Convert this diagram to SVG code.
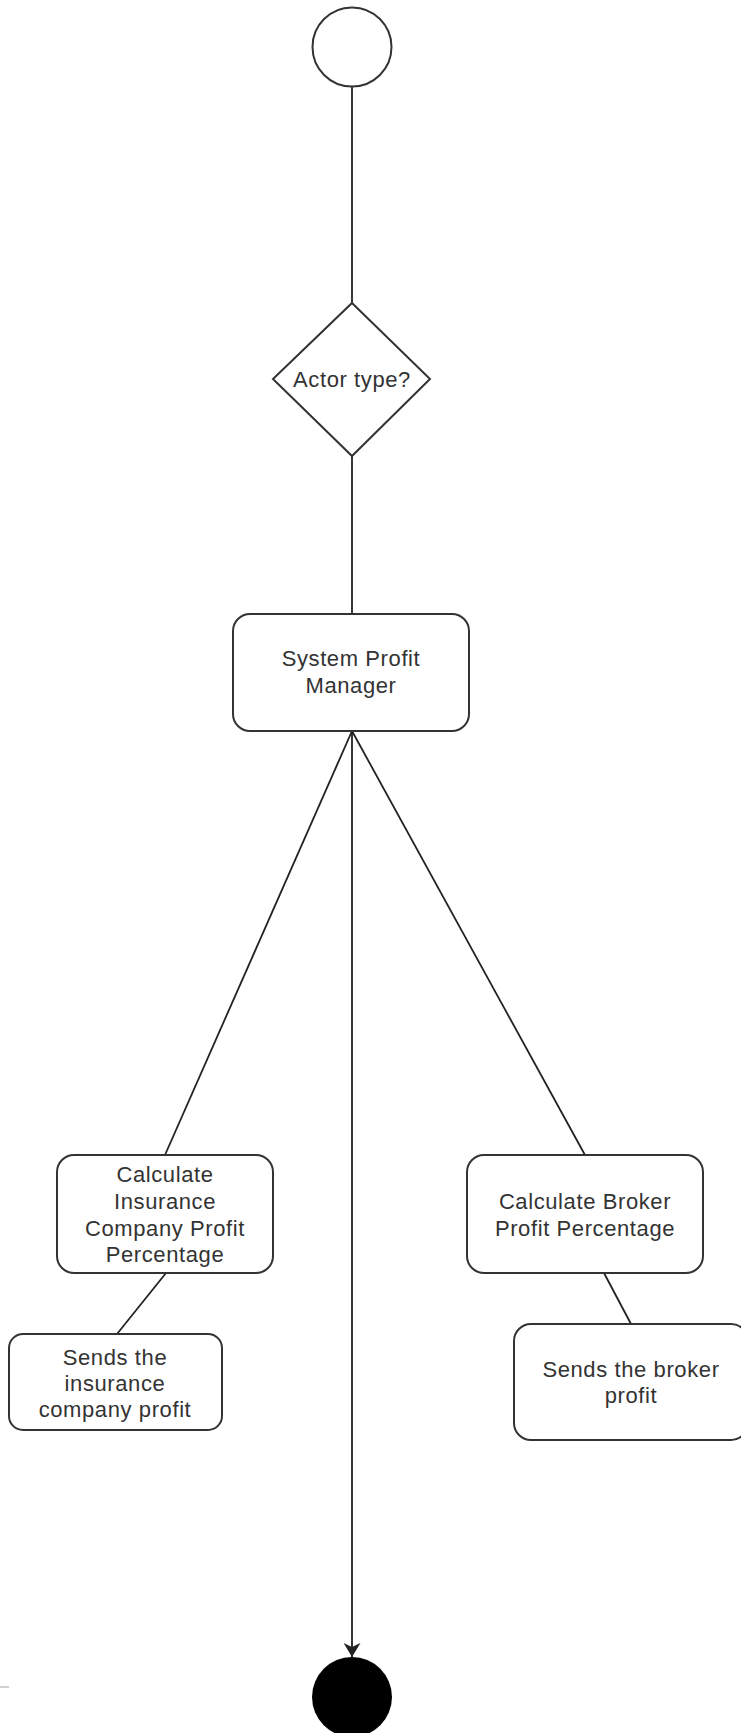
<svg xmlns="http://www.w3.org/2000/svg" width="741" height="1733" viewBox="0 0 741 1733">
  <style>
    .node { fill: #ffffff; stroke: #333333; stroke-width: 2; }
    .edge { fill: none; stroke: #222222; stroke-width: 1.8; }
    .label { font-family: "Liberation Sans", Arial, sans-serif; font-size: 22px; letter-spacing: 0.6px; fill: #333333; text-anchor: middle; }
  </style>
  <defs>
    <marker id="arrow" viewBox="0 0 14 17" refX="14" refY="8.5" markerWidth="14" markerHeight="17" markerUnits="userSpaceOnUse" orient="auto">
      <path d="M0,0 L14,8.5 L0,17 L4,8.5 Z" fill="#222222"/>
    </marker>
  </defs>
  <rect width="741" height="1733" fill="#ffffff"/>

  <g id="connectors">
    <line class="edge" x1="352" y1="87" x2="352" y2="303"/>
    <line class="edge" x1="352" y1="456" x2="352" y2="614"/>
    <line class="edge" x1="352" y1="731" x2="165" y2="1155"/>
    <line class="edge" x1="352" y1="731" x2="585" y2="1155"/>
    <path class="edge" d="M352,731 L352,1657" marker-end="url(#arrow)"/>
    <line class="edge" x1="166" y1="1273" x2="117" y2="1334"/>
    <line class="edge" x1="604" y1="1273" x2="631" y2="1324"/>
  </g>

  <g id="start">
    <circle class="node" cx="352" cy="47" r="39.5"/>
  </g>

  <g id="decision">
    <polygon class="node" points="352,303 430,379 352,456 273,379"/>
    <text class="label" x="352" y="387">Actor type?</text>
  </g>

  <g id="system-profit-manager">
    <rect class="node" x="233" y="614" width="236" height="117" rx="17" ry="17"/>
    <text class="label" x="351" y="666">System Profit</text>
    <text class="label" x="351" y="693">Manager</text>
  </g>

  <g id="calc-insurance">
    <rect class="node" x="57" y="1155" width="216" height="118" rx="17" ry="17"/>
    <text class="label" x="165" y="1182">Calculate</text>
    <text class="label" x="165" y="1209">Insurance</text>
    <text class="label" x="165" y="1236">Company Profit</text>
    <text class="label" x="165" y="1262">Percentage</text>
  </g>

  <g id="calc-broker">
    <rect class="node" x="467" y="1155" width="236" height="118" rx="17" ry="17"/>
    <text class="label" x="585" y="1209">Calculate Broker</text>
    <text class="label" x="585" y="1236">Profit Percentage</text>
  </g>

  <g id="send-insurance">
    <rect class="node" x="9" y="1334" width="213" height="96" rx="14" ry="14"/>
    <text class="label" x="115" y="1365">Sends the</text>
    <text class="label" x="115" y="1391">insurance</text>
    <text class="label" x="115" y="1417">company profit</text>
  </g>

  <g id="send-broker">
    <rect class="node" x="514" y="1324" width="234" height="116" rx="17" ry="17"/>
    <text class="label" x="631" y="1377">Sends the broker</text>
    <text class="label" x="631" y="1403">profit</text>
  </g>

  <g id="end">
    <circle cx="352" cy="1697" r="40" fill="#000000"/>
  </g>

  <line x1="0" y1="1687" x2="9" y2="1687" stroke="#d0d0d0" stroke-width="2"/>
</svg>
